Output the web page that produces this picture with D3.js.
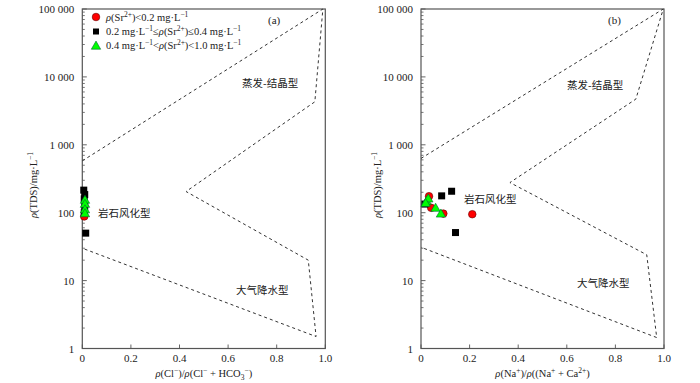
<!DOCTYPE html>
<html>
<head>
<meta charset="utf-8">
<script src="https://cdn.jsdelivr.net/npm/d3@7"></script>
<style>
body{margin:0;background:#fff;}
svg text{fill:#222;}
</style>
</head>
<body>
<div id="chart"></div>
<script>
// axis ticks
var xTicks=[0,0.2,0.4,0.6,0.8,1.0];
var xTickLabels=["0","0.2","0.4","0.6","0.8","1.0"];
var yTicks=[1,10,100,1000,10000,100000];
var yTickLabels=["1","10","100","1 000","10 000","100 000"];

// panel (a): rho(Cl-)/rho(Cl- + HCO3-)
var aLowX=[0.008], aLowTDS=[88];
var aMidX=[0.006,0.01,0.008,0.01,0.008,0.014], aMidTDS=[215,185,160,125,100,50];
var aHighX=[0.011,0.011,0.011,0.011], aHighTDS=[155,135,112,98];
var aBoundX=[0,0.99,0.957,0.427,0.93,0.962,0];
var aBoundTDS=[580,100000,4300,205,20,1.5,30];

// panel (b): rho(Na+)/rho(Na+ + Ca2+)
var bLowX=[0.033,0.042,0.092,0.211], bLowTDS=[175,118,97,95];
var bMidX=[0.016,0.085,0.126,0.142], bMidTDS=[134,177,207,51];
var bHighX=[0.023,0.030,0.019,0.060,0.082], bHighTDS=[149,162,139,118,97];
var bBoundX=[0,0.997,0.884,0.366,0.929,0.97,0];
var bBoundTDS=[630,100000,4700,278,24,1.45,31];

var serif="Liberation Serif, DejaVu Serif, serif";
var cjk="Noto Sans CJK SC, sans-serif";

var width=700,height=383;
var svg=d3.select("#chart").append("svg")
	.attr("width",width).attr("height",height)
	.attr("font-family",serif);

function zip(xs,ys){ return xs.map(function(x,i){ return {x:x,y:ys[i]}; }); }

function panel(o){
	var x=d3.scaleLinear().domain([0,1]).range([o.left,o.left+243]);
	var y=d3.scaleLog().domain([1,100000]).range([348.5,9]);
	var g=svg.append("g");

	// frame
	g.append("rect").attr("x",x(0)).attr("y",y(100000))
		.attr("width",x(1)-x(0)).attr("height",y(1)-y(100000))
		.attr("fill","none").attr("stroke","#555").attr("stroke-width",1.2);

	// y minor + major ticks, inward
	var minors=[];
	for(var e=0;e<5;e++) for(var k=2;k<10;k++) minors.push(k*Math.pow(10,e));
	g.selectAll(".ymin").data(minors).enter().append("line")
		.attr("x1",x(0)).attr("x2",x(0)+2.5)
		.attr("y1",function(d){return y(d);}).attr("y2",function(d){return y(d);})
		.attr("stroke","#555").attr("stroke-width",0.8);
	g.selectAll(".ymaj").data(yTicks).enter().append("line")
		.attr("x1",x(0)).attr("x2",x(0)+4.5)
		.attr("y1",function(d){return y(d);}).attr("y2",function(d){return y(d);})
		.attr("stroke","#555").attr("stroke-width",0.9);
	g.selectAll(".ylab").data(yTicks).enter().append("text")
		.attr("x",x(0)-8).attr("y",function(d){return y(d)+4;})
		.attr("text-anchor","end").attr("font-size",11)
		.text(function(d,i){return yTickLabels[i];});

	// x ticks
	g.selectAll(".xt").data(xTicks).enter().append("line")
		.attr("x1",function(d){return x(d);}).attr("x2",function(d){return x(d);})
		.attr("y1",y(1)).attr("y2",y(1)-4)
		.attr("stroke","#555").attr("stroke-width",0.9);
	g.selectAll(".xl").data(xTicks).enter().append("text")
		.attr("x",function(d){return x(d);}).attr("y",y(1)+13)
		.attr("text-anchor","middle").attr("font-size",11)
		.text(function(d,i){return xTickLabels[i];});

	// boundary
	var line=d3.line().x(function(d){return x(d.x);}).y(function(d){return y(d.y);});
	g.append("path").datum(zip(o.bx,o.by)).attr("d",line)
		.attr("fill","none").attr("stroke","#333").attr("stroke-width",1)
		.attr("stroke-dasharray","3,3");

	// zone labels
	g.append("text").attr("font-family",cjk).attr("x",o.evap[0]).attr("y",o.evap[1])
		.attr("font-size",10.5).text("蒸发-结晶型");
	g.append("text").attr("font-family",cjk).attr("x",o.rock[0]).attr("y",o.rock[1])
		.attr("font-size",10.5).text("岩石风化型");
	g.append("text").attr("font-family",cjk).attr("x",o.rain[0]).attr("y",o.rain[1])
		.attr("font-size",10.5).text("大气降水型");
	g.append("text").attr("x",o.tag[0]).attr("y",o.tag[1]).attr("font-size",11).text(o.tagText);

	// points
	g.selectAll(".c").data(zip(o.lx,o.ly)).enter().append("circle")
		.attr("cx",function(d){return x(d.x);}).attr("cy",function(d){return y(d.y);})
		.attr("r",3.8).attr("fill","#f00").attr("stroke","#600").attr("stroke-width",0.6);
	g.selectAll(".s").data(zip(o.mx,o.my)).enter().append("rect")
		.attr("x",function(d){return x(d.x)-3.5;}).attr("y",function(d){return y(d.y)-3.5;})
		.attr("width",7).attr("height",7).attr("fill","#000");
	var tri=d3.symbol().type(d3.symbolTriangle).size(38);
	g.selectAll(".t").data(zip(o.hx,o.hy)).enter().append("path")
		.attr("d",tri)
		.attr("transform",function(d){return "translate("+x(d.x)+","+(y(d.y)+0.8)+")";})
		.attr("fill","#0f0").attr("stroke","#063").attr("stroke-width",0.6);

	// axis titles
	g.append("text").attr("transform","translate("+(x(0)-o.yOff)+",185) rotate(-90)")
		.attr("text-anchor","middle").attr("font-size",10.5)
		.html('<tspan font-style="italic">ρ</tspan>(TDS)/mg·L<tspan dy="-4" font-size="7.5">−1</tspan>');
	g.append("text").attr("x",(x(0)+x(1))/2).attr("y",377)
		.attr("text-anchor","middle").attr("font-size",10.5)
		.html(o.xTitle);
	return g;
}

var a=panel({left:82.3,yOff:45,bx:aBoundX,by:aBoundTDS,lx:aLowX,ly:aLowTDS,mx:aMidX,my:aMidTDS,hx:aHighX,hy:aHighTDS,
	evap:[242,87],rock:[98,217],rain:[236,294],tag:[268,24],tagText:"(a)",
	xTitle:'<tspan font-style="italic">ρ</tspan>(Cl<tspan dy="-4" font-size="7.5">−</tspan><tspan dy="4">)/</tspan><tspan font-style="italic">ρ</tspan>(Cl<tspan dy="-4" font-size="7.5">−</tspan><tspan dy="4"> + HCO</tspan><tspan dy="3" font-size="7.5">3</tspan><tspan dy="-7" font-size="7.5">−</tspan><tspan dy="4">)</tspan>'});
var b=panel({left:421,yOff:40,bx:bBoundX,by:bBoundTDS,lx:bLowX,ly:bLowTDS,mx:bMidX,my:bMidTDS,hx:bHighX,hy:bHighTDS,
	evap:[567,89],rock:[464,203],rain:[577,287],tag:[608,24],tagText:"(b)",
	xTitle:'<tspan font-style="italic">ρ</tspan>(Na<tspan dy="-4" font-size="7.5">+</tspan><tspan dy="4">)/</tspan><tspan font-style="italic">ρ</tspan>((Na<tspan dy="-4" font-size="7.5">+</tspan><tspan dy="4"> + Ca</tspan><tspan dy="-4" font-size="7.5">2+</tspan><tspan dy="4">)</tspan>'});

// legend
var leg=svg.append("g");
leg.append("circle").attr("cx",96).attr("cy",17).attr("r",3.8).attr("fill","#f00").attr("stroke","#600").attr("stroke-width",0.6);
leg.append("rect").attr("x",93).attr("y",28.5).attr("width",6).attr("height",6).attr("fill","#000");
leg.append("path").attr("d",d3.symbol().type(d3.symbolTriangle).size(38)).attr("transform","translate(96,46.5)")
	.attr("fill","#0f0").attr("stroke","#063").attr("stroke-width",0.6);
var sup=function(s){return '<tspan dy="-4" font-size="7.5">'+s+'</tspan><tspan dy="4">';};
leg.append("text").attr("x",106).attr("y",21).attr("font-size",10.5)
	.html('<tspan font-style="italic">ρ</tspan>(Sr'+sup("2+")+')&lt;0.2 mg·L'+sup("−1")+'</tspan></tspan>');
leg.append("text").attr("x",106).attr("y",35).attr("font-size",10.5)
	.html('0.2 mg·L'+sup("−1")+'≤</tspan><tspan font-style="italic">ρ</tspan>(Sr'+sup("2+")+')≤0.4 mg·L'+sup("−1")+'</tspan></tspan>');
leg.append("text").attr("x",106).attr("y",49).attr("font-size",10.5)
	.html('0.4 mg·L'+sup("−1")+'&lt;</tspan><tspan font-style="italic">ρ</tspan>(Sr'+sup("2+")+')&lt;1.0 mg·L'+sup("−1")+'</tspan></tspan>');
</script>
</body>
</html>
